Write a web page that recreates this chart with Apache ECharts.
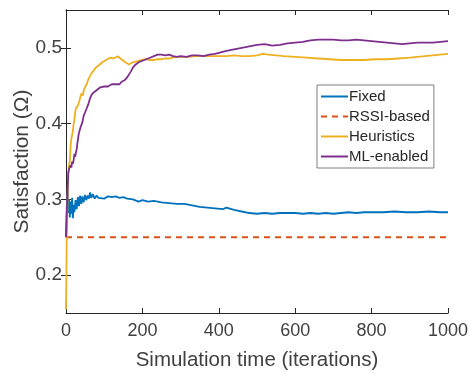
<!DOCTYPE html>
<html>
<head>
<meta charset="utf-8">
<script src="https://cdn.jsdelivr.net/npm/echarts@6/dist/echarts.min.js"></script>
<style>
  html, body { margin: 0; padding: 0; background: #fff; }
  #chart { width: 470px; height: 372px; }
</style>
</head>
<body>
<div id="chart"></div>
<script>
// [iteration, satisfaction] pairs
const fixedData = [
  [0, 0.25], [2, 0.29], [4, 0.31], [6, 0.282], [8, 0.30], [10, 0.276], [12, 0.297], [14, 0.281],
  [16, 0.302], [18, 0.275], [20, 0.293], [22, 0.283], [25, 0.299], [28, 0.287], [31, 0.303],
  [34, 0.291], [37, 0.305], [40, 0.294], [43, 0.304], [46, 0.296], [50, 0.306], [53, 0.299],
  [57, 0.305], [60, 0.301], [63, 0.309], [66, 0.302], [70, 0.307], [75, 0.301], [80, 0.305],
  [85, 0.302], [90, 0.303], [100, 0.301], [110, 0.304], [120, 0.303], [130, 0.304], [140, 0.302],
  [150, 0.303], [160, 0.301], [175, 0.300], [190, 0.297], [200, 0.299], [215, 0.297], [230, 0.298],
  [250, 0.296], [270, 0.295], [290, 0.294], [310, 0.294], [330, 0.292], [350, 0.290], [370, 0.289],
  [390, 0.288], [410, 0.287], [420, 0.289], [440, 0.286], [460, 0.284], [480, 0.282], [500, 0.281],
  [520, 0.282], [540, 0.281], [560, 0.282], [580, 0.282], [600, 0.282], [620, 0.281], [640, 0.282],
  [660, 0.281], [680, 0.282], [700, 0.281], [720, 0.282], [740, 0.283], [760, 0.282], [780, 0.283],
  [800, 0.283], [830, 0.283], [860, 0.284], [890, 0.283], [920, 0.283], [950, 0.284], [980, 0.283],
  [1000, 0.283]
];

const rssiData = [[0, 0.25], [1000, 0.25]];

const heuristicsData = [
  [0, 0.155], [1, 0.20], [2, 0.25], [4, 0.30], [6, 0.335], [8, 0.345], [10, 0.35], [12, 0.37],
  [14, 0.38], [16, 0.385], [18, 0.39], [20, 0.40], [22, 0.405], [24, 0.415], [26, 0.42], [28, 0.419],
  [30, 0.422], [32, 0.425], [35, 0.43], [38, 0.436], [41, 0.44], [44, 0.437], [47, 0.445], [50, 0.447],
  [54, 0.452], [58, 0.458], [62, 0.462], [66, 0.466], [70, 0.468], [74, 0.471], [78, 0.474],
  [82, 0.473], [86, 0.477], [90, 0.479], [95, 0.481], [100, 0.482], [105, 0.484], [110, 0.486],
  [115, 0.487], [120, 0.488], [125, 0.486], [130, 0.487], [135, 0.489], [140, 0.487], [145, 0.485],
  [150, 0.483], [155, 0.481], [160, 0.479], [165, 0.478], [170, 0.479], [175, 0.481], [180, 0.482],
  [190, 0.483], [200, 0.484], [210, 0.485], [220, 0.484], [230, 0.484], [240, 0.485], [250, 0.485],
  [260, 0.486], [270, 0.486], [280, 0.487], [290, 0.488], [300, 0.488], [320, 0.488], [340, 0.489],
  [360, 0.489], [380, 0.489], [400, 0.489], [420, 0.489], [440, 0.490], [460, 0.489], [480, 0.489],
  [500, 0.490], [515, 0.492], [530, 0.491], [550, 0.490], [570, 0.489], [600, 0.488], [630, 0.487],
  [660, 0.486], [690, 0.485], [720, 0.484], [750, 0.484], [780, 0.484], [810, 0.485], [840, 0.485],
  [870, 0.486], [900, 0.487], [920, 0.488], [940, 0.489], [960, 0.490], [980, 0.491], [1000, 0.492]
];

const mlData = [
  [0, 0.25], [2, 0.28], [4, 0.31], [6, 0.335], [8, 0.34], [10, 0.338], [12, 0.345], [14, 0.342],
  [16, 0.35], [18, 0.347], [20, 0.352], [22, 0.36], [24, 0.356], [26, 0.362], [28, 0.366],
  [30, 0.375], [32, 0.382], [34, 0.388], [36, 0.39], [38, 0.395], [40, 0.394], [43, 0.402],
  [46, 0.41], [50, 0.415], [54, 0.42], [58, 0.425], [62, 0.432], [66, 0.437], [70, 0.44],
  [75, 0.442], [80, 0.444], [85, 0.446], [90, 0.448], [95, 0.449], [100, 0.449], [105, 0.45],
  [110, 0.449], [115, 0.451], [120, 0.452], [125, 0.451], [130, 0.452], [135, 0.454], [140, 0.452],
  [145, 0.455], [150, 0.456], [155, 0.458], [160, 0.461], [165, 0.465], [170, 0.469], [175, 0.474],
  [180, 0.477], [185, 0.479], [190, 0.481], [200, 0.483], [210, 0.485], [220, 0.487], [230, 0.489],
  [240, 0.491], [250, 0.491], [260, 0.490], [270, 0.491], [280, 0.489], [290, 0.488], [300, 0.489],
  [315, 0.488], [330, 0.490], [345, 0.490], [360, 0.489], [375, 0.491], [390, 0.492], [405, 0.494],
  [420, 0.496], [440, 0.498], [460, 0.500], [480, 0.502], [500, 0.504], [520, 0.505], [540, 0.503],
  [560, 0.504], [580, 0.506], [600, 0.507], [620, 0.508], [640, 0.510], [660, 0.511], [680, 0.511],
  [700, 0.511], [720, 0.510], [740, 0.510], [760, 0.511], [780, 0.510], [800, 0.509], [820, 0.508],
  [840, 0.507], [860, 0.506], [880, 0.505], [900, 0.506], [920, 0.507], [940, 0.507], [960, 0.507],
  [980, 0.508], [1000, 0.509]
];

const seriesNames = ["Fixed", "RSSI-based", "Heuristics", "ML-enabled"];
const yTicks = [0.2, 0.3, 0.4, 0.5];

const TEXT = "#404040";
const AXIS = "#262626";
const FONT = "Liberation Sans, Arial, sans-serif";

const chart = echarts.init(document.getElementById("chart"), null, { renderer: "canvas" });

const tickStyle = { inside: true, length: 5, lineStyle: { color: AXIS, width: 1 } };

function lineSeries(name, data, color, dashed) {
  return {
    name: name,
    type: "line",
    data: data,
    symbol: "none",
    animation: false,
    lineStyle: { color: color, width: 1.8, type: dashed ? [6, 5] : "solid" },
    itemStyle: { color: color },
  };
}

chart.setOption({
  backgroundColor: "#fff",
  animation: false,
  textStyle: { fontFamily: FONT },
  grid: { left: 66, right: 22, top: 10, bottom: 59, outerBoundsMode: "none" },
  legend: {
    data: seriesNames,
    orient: "vertical",
    left: 317,
    top: 85,
    itemWidth: 27,
    itemHeight: 12,
    itemGap: 5,
    padding: [4, 4, 4, 3],
    backgroundColor: "#fff",
    borderColor: "#7f7f7f",
    borderWidth: 1,
    borderRadius: 0,
    itemStyle: { opacity: 0 },
    textStyle: { color: "#262626", fontSize: 15, fontFamily: FONT, padding: [0, 0, 0, -4] },
  },
  xAxis: [
    {
      type: "value",
      min: 0,
      max: 1000,
      interval: 200,
      name: "Simulation time (iterations)",
      nameLocation: "middle",
      nameGap: 37,
      nameMoveOverlap: false,
      nameTextStyle: { color: TEXT, fontSize: 20.5, fontFamily: FONT },
      axisLine: { show: true, lineStyle: { color: AXIS, width: 1 } },
      axisTick: tickStyle,
      axisLabel: { color: TEXT, fontSize: 18, margin: 9, fontFamily: FONT, formatter: (v) => String(v) },
      splitLine: { show: false },
    },
    {
      type: "value",
      position: "top",
      min: 0,
      max: 1000,
      interval: 200,
      axisLine: { show: true, lineStyle: { color: AXIS, width: 1 } },
      axisTick: tickStyle,
      axisLabel: { show: false },
      splitLine: { show: false },
    },
  ],
  yAxis: [
    {
      type: "value",
      min: 0.15,
      max: 0.55,
      name: "Satisfaction (Ω)",
      nameLocation: "middle",
      nameGap: 33,
      nameMoveOverlap: false,
      nameTextStyle: { color: TEXT, fontSize: 21, fontFamily: FONT },
      axisLine: { show: true, lineStyle: { color: AXIS, width: 1 } },
      axisTick: Object.assign({ customValues: yTicks }, tickStyle),
      axisLabel: {
        color: TEXT, fontSize: 19, margin: 4, fontFamily: FONT,
        customValues: yTicks,
        formatter: (v) => v.toFixed(1),
      },
      splitLine: { show: false },
    },
    {
      type: "value",
      position: "right",
      min: 0.15,
      max: 0.55,
      axisLine: { show: true, lineStyle: { color: AXIS, width: 1 } },
      axisTick: Object.assign({ customValues: yTicks }, tickStyle),
      axisLabel: { show: false, customValues: yTicks },
      splitLine: { show: false },
    },
  ],
  series: [
    lineSeries("Fixed", fixedData, "#0072BD", false),
    lineSeries("RSSI-based", rssiData, "#D95319", true),
    lineSeries("Heuristics", heuristicsData, "#EDB120", false),
    lineSeries("ML-enabled", mlData, "#7E2F8E", false),
  ],
});
</script>
</body>
</html>
